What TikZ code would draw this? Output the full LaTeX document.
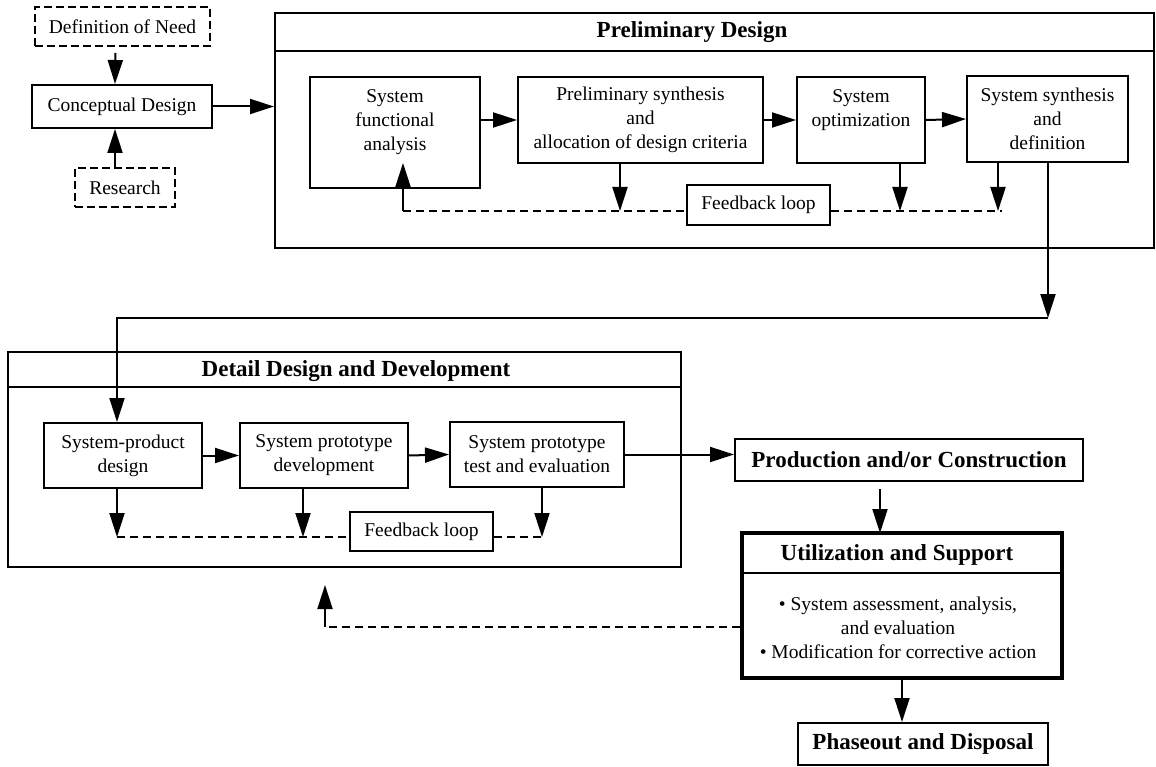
\documentclass[tikz,border=0pt]{standalone}
\usepackage{fontspec}
\setmainfont{Liberation Serif}
\usetikzlibrary{arrows.meta}

\begin{document}
\begin{tikzpicture}[x=1pt, y=-1pt,
  every node/.style={font=\fontsize{19.5}{24}\selectfont},
  box/.style={draw, line width=2pt, align=center, inner sep=0pt},
  dbox/.style={box, dash pattern=on 8pt off 4pt},
  hd/.style={font=\fontsize{23}{27}\selectfont\bfseries},
  arr/.style={line width=2pt, -{Triangle[length=24pt,width=15pt]}},
  fb/.style={line width=2pt, dash pattern=on 8pt off 5pt}]
\useasboundingbox (0,0) rectangle (1156,767);

% conceptual design
\node[dbox, minimum width=175pt, minimum height=39pt] (need) at (122.5,26.5) {Definition of Need};
\node[box, minimum width=180pt, minimum height=43pt] (concept) at (122,106.5) {Conceptual Design};
\node[dbox, minimum width=100pt, minimum height=39pt] (research) at (125,187.5) {Research};
\draw[arr, shorten <=6pt] ([xshift=-7pt]need.south) -- ([xshift=-7pt]concept.north);
\draw[arr] ([xshift=-10pt]research.north) -- ([xshift=-7pt]concept.south);

% preliminary design
\node[box, minimum width=879pt, minimum height=235pt] (prelim) at (714.5,130.5) {};
\draw[line width=2pt] ([yshift=-39pt]prelim.north west) -- ([yshift=-39pt]prelim.north east);
\node[hd] (prelimtitle) at (692,32) {Preliminary Design};
\draw[arr] (concept.east) -- (concept.east -| prelim.west);

\node[box, minimum width=170pt, minimum height=111pt] (sfa) at (395,132.5) {System\\functional\\analysis\\\mbox{}};
\node[box, minimum width=245pt, minimum height=86pt] (psa) at (640.5,120) {Preliminary synthesis\\and\\allocation of design criteria};
\node[box, minimum width=128pt, minimum height=86pt] (so) at (861,120) {System\\optimization\\\mbox{}};
\node[box, minimum width=161pt, minimum height=86pt] (ssd) at (1047.5,119) {System synthesis\\and\\definition};
\draw[arr] (sfa.east |- psa.west) -- (psa.west);
\draw[arr] (psa.east) -- (so.west);
\draw[arr] (so.east) -- (ssd.west);

% feedback loop
\node[box, minimum width=143pt, minimum height=40pt] (fbtop) at (758.5,205) {Feedback loop};
\coordinate (la) at (403,211);
\coordinate (lb) at (1002,211);
\draw[fb] (la) -- (la -| fbtop.west);
\draw[fb] (fbtop.east |- la) -- (lb);
\draw[arr] (psa.south -| 620,0) -- (620,211);
\draw[arr] (so.south -| 900,0) -- (900,211);
\draw[arr] (ssd.south -| 998,0) -- (998,211);
\draw[arr] (la) -- (403,163);

% to detail design
\coordinate (c1) at (1048,318);
\coordinate (c2) at (117,318);
\draw[arr] (ssd.south -| c1) -- (c1);

% detail design and development
\node[box, minimum width=673pt, minimum height=215pt] (detail) at (344.5,459.5) {};
\draw[line width=2pt] ([yshift=-36pt]detail.north west) -- ([yshift=-36pt]detail.north east);
\node[hd] (detailtitle) at (356,371) {Detail Design and Development};

\node[box, minimum width=158pt, minimum height=65pt] (spd) at (123,455.5) {System-product\\design};
\node[box, minimum width=168pt, minimum height=65pt] (spdev) at (324,455.5) {System prototype\\development};
\node[box, minimum width=174pt, minimum height=65pt] (spte) at (537,454.5) {System prototype\\test and evaluation};
\draw[arr] (c1) -- (c2) -- (c2 |- spd.north);
\draw[arr] (spd.east) -- (spdev.west);
\draw[arr] (spdev.east) -- (spte.west);

\node[box, minimum width=143pt, minimum height=39pt] (fbbot) at (421.5,531.5) {Feedback loop};
\coordinate (lc) at (117,537);
\coordinate (ld) at (542,537);
\draw[fb] (lc) -- (lc -| fbbot.west);
\draw[fb] (fbbot.east |- lc) -- (ld);
\draw[arr] (spd.south -| lc) -- (lc);
\draw[arr] (spdev.south -| 303,0) -- (303,537);
\draw[arr] (spte.south -| ld) -- (ld);

% production, use, disposal
\node[box, hd, minimum width=348pt, minimum height=42pt] (prod) at (909,460) {Production and/or Construction};
\draw[arr] (spte.east) -- (spte.east -| prod.west);

\node[box, line width=4pt, minimum width=320pt, minimum height=145pt] (util) at (902,605.5) {};
\draw[line width=2pt] ([yshift=-42pt]util.north west) -- ([yshift=-42pt]util.north east);
\node[hd] (utiltitle) at (897,555) {Utilization and Support};
\node[align=center] (utiltext) at (898,628) {\textbullet\ System assessment, analysis,\\and evaluation\\\textbullet\ Modification for corrective action};
\draw[arr, shorten <=7pt] (prod.south -| 880,0) -- (880,533);

\node[box, hd, minimum width=250pt, minimum height=42pt] (phase) at (923,744) {Phaseout and Disposal};
\draw[arr] (util.south) -- (util.south |- phase.north);

% feedback to detail design
\coordinate (c3) at (325,627);
\draw[fb] (util.west |- c3) -- (c3);
\draw[arr] (c3) -- (325,585);

\end{tikzpicture}
\end{document}
